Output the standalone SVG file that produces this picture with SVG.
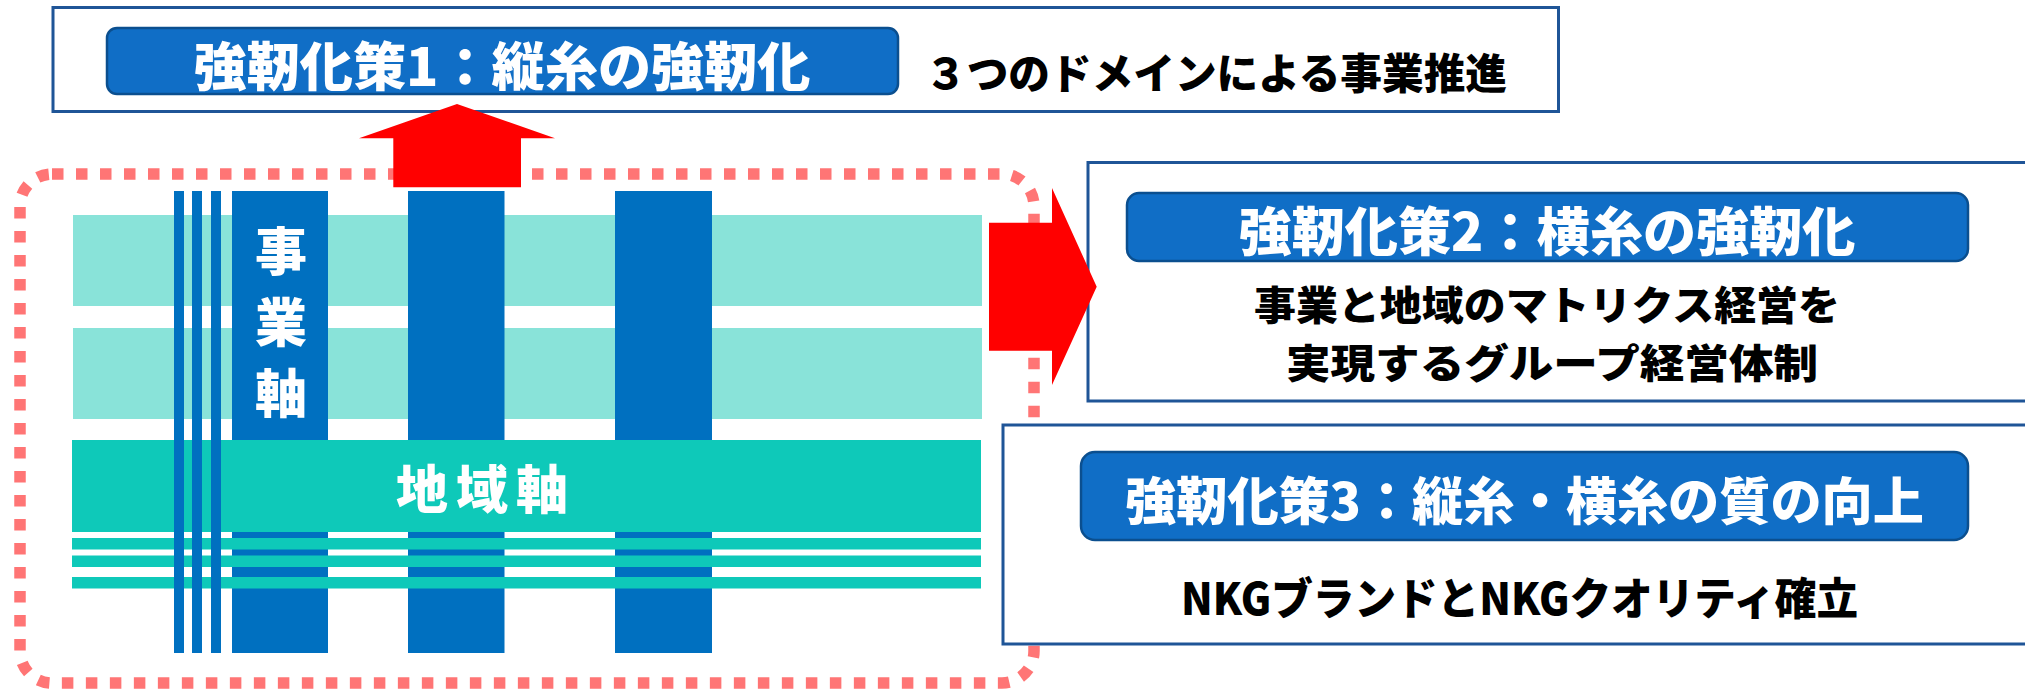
<svg xmlns="http://www.w3.org/2000/svg" width="2025" height="689" viewBox="0 0 2025 689">
  <style>
    .box { fill: #ffffff; stroke: #1F5597; stroke-width: 3; }
    .pill { fill: #106EC6; stroke: #0B4F8F; stroke-width: 2.5; }
    .pt { font-family: "Noto Sans CJK JP", "Noto Sans", sans-serif; font-weight: 900; fill: #ffffff; text-anchor: middle; dominant-baseline: central; }
    .bt { font-family: "Noto Sans CJK JP", "Noto Sans", sans-serif; font-weight: 900; fill: #000000; text-anchor: middle; dominant-baseline: central; }
    .light { fill: #89E3D9; }
    .teal { fill: #0EC9B9; }
    .col { fill: #0070C0; }
    .red { fill: #FF0000; }
  </style>

  <!-- Matrix graphic -->
  <g id="matrix">
    <rect class="light" x="73" y="215" width="909" height="91"/>
    <rect class="light" x="73" y="328" width="909" height="91"/>
    <rect class="col" x="232" y="191" width="96" height="462"/>
    <rect class="col" x="408" y="191" width="96.5" height="462"/>
    <rect class="col" x="615" y="191" width="97" height="462"/>
    <rect class="teal" x="72" y="440" width="909" height="92"/>
    <rect class="teal" x="72" y="538" width="909" height="11.5"/>
    <rect class="teal" x="72" y="555.5" width="909" height="11.5"/>
    <rect class="teal" x="72" y="577" width="909" height="11.5"/>
    <rect class="col" x="174" y="191" width="10" height="462"/>
    <rect class="col" x="192" y="191" width="10" height="462"/>
    <rect class="col" x="211" y="191" width="10" height="462"/>
  </g>
  <g id="business-axis-label">
    <text class="pt" x="281" y="248" font-size="52">事</text>
    <text class="pt" x="281" y="319.5" font-size="52">業</text>
    <text class="pt" x="281" y="390.5" font-size="52">軸</text>
  </g>
  <g id="region-axis-label">
    <text class="pt" x="482" y="486.5" font-size="52" textLength="172" lengthAdjust="spacing">地域軸</text>
  </g>

  <!-- dotted frame -->
  <g id="frame">
    <rect x="20" y="174" width="1014" height="509" rx="32" ry="32" fill="none" stroke="#FF7575" stroke-width="11.5" stroke-dasharray="11.5 12.5"/>
  </g>

  <!-- Box 1 -->
  <g id="measure1">
    <rect class="box" x="53" y="7.5" width="1505.5" height="104"/>
    <rect class="pill" x="107" y="28" width="791" height="66" rx="10" ry="10"/>
    <text class="pt" x="502" y="63" font-size="52" textLength="617" lengthAdjust="spacingAndGlyphs">強靭化策1：縦糸の強靭化</text>
    <text class="bt" x="1216" y="70.5" font-size="42" textLength="582" lengthAdjust="spacingAndGlyphs">３つのドメインによる事業推進</text>
  </g>

  <!-- Box 2 -->
  <g id="measure2">
    <rect class="box" x="1088" y="162.5" width="945" height="238.5"/>
    <rect class="pill" x="1127" y="193" width="841" height="68" rx="12" ry="12"/>
    <text class="pt" x="1547" y="228.5" font-size="52" textLength="617" lengthAdjust="spacingAndGlyphs">強靭化策2：横糸の強靭化</text>
    <text class="bt" x="1547" y="302.5" font-size="40" textLength="586" lengthAdjust="spacingAndGlyphs">事業と地域のマトリクス経営を</text>
    <text class="bt" x="1552" y="361" font-size="40" textLength="532" lengthAdjust="spacingAndGlyphs">実現するグループ経営体制</text>
  </g>

  <!-- Box 3 -->
  <g id="measure3">
    <rect class="box" x="1003" y="425" width="1030" height="219"/>
    <rect class="pill" x="1081" y="452" width="887" height="88" rx="14" ry="14"/>
    <text class="pt" x="1524.5" y="497.5" font-size="51" textLength="799" lengthAdjust="spacingAndGlyphs">強靭化策3：縦糸・横糸の質の向上</text>
    <text class="bt" x="1519.5" y="596" font-size="44" textLength="677" lengthAdjust="spacingAndGlyphs">NKGブランドとNKGクオリティ確立</text>
  </g>

  <!-- Connectors (block arrows) -->
  <g id="connectors">
    <polygon class="red" points="457,104 555,138.3 521,138.3 521,187.3 393.3,187.3 393.3,138.3 359,138.3"/>
    <polygon class="red" points="989,222.7 1052,222.7 1052,188 1096.7,286.7 1052,385 1052,350.7 989,350.7"/>
  </g>
</svg>
